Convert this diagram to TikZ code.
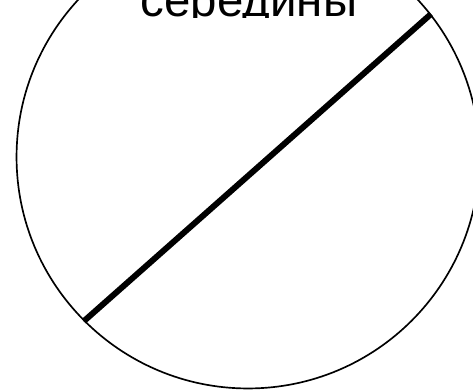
\documentclass[tikz,border=0pt]{standalone}
\usepackage{fontspec}
\setmainfont{Liberation Sans}
\begin{document}
\begin{tikzpicture}[x=0.02cm,y=-0.02cm,
    rimline/.style={line width=0.95pt},
    chord/.style={line width=3.4pt}]
  \useasboundingbox (0,0) rectangle (473,390);
  \clip (0,0) rectangle (473,390);
  \node[draw,circle,rimline,minimum size=9.26cm,inner sep=0pt] (rim) at (248,157) {};
  \draw[chord] (rim.225) -- (rim.38);
  % caption, cut off at the top edge
  \begin{scope}
    \clip (0,0) rectangle (473,17);
    \node[anchor=base,inner sep=0pt,font=\fontsize{27}{32}\selectfont] (word) at (249,16) {середины};
  \end{scope}
\end{tikzpicture}
\end{document}
